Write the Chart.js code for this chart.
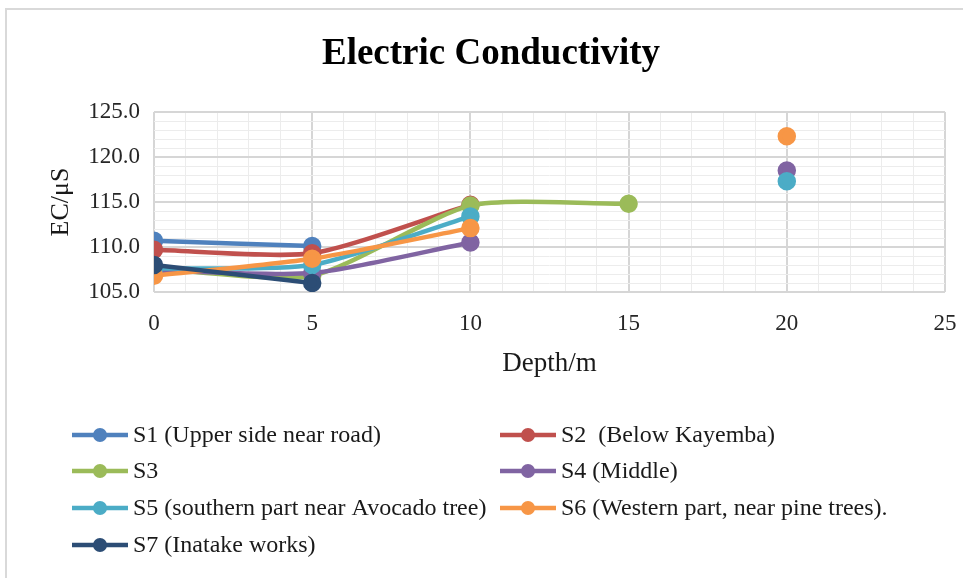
<!DOCTYPE html>
<html>
<head>
<meta charset="utf-8">
<script src="https://cdn.jsdelivr.net/npm/chart.js@4.4.0/dist/chart.umd.min.js"></script>
<style>
html, body { margin: 0; padding: 0; background: #fff; }
#wrap { position: relative; width: 963px; height: 578px; overflow: hidden; }
#frame { position: absolute; left: 5px; top: 8px; width: 1000px; height: 600px; border: 2px solid #d9d9d9; box-sizing: border-box; }
#ecChart { position: absolute; left: 0; top: 0; }
</style>
</head>
<body>
<div id="wrap">
  <div id="frame"></div>
  <canvas id="ecChart" width="963" height="578"></canvas>
</div>
<script>
// depth (m) at which each sample was taken
const depths = [0, 5, 10, 15, 20];

const seriesNames = [
    "S1 (Upper side near road)",
    "S2  (Below Kayemba)",
    "S3",
    "S4 (Middle)",
    "S5 (southern part near Avocado tree)",
    "S6 (Western part, near pine trees).",
    "S7 (Inatake works)"
];

// EC in µS, null where no reading exists
const s1 = [110.7, 110.1, null, null, null];
const s2 = [109.7, 109.3, 114.7, null, null];
const s3 = [107.6, 106.8, 114.6, 114.8, null];
const s4 = [107.4, 107.1, 110.5, null, 118.5];
const s5 = [107.6, 108.0, 113.4, null, 117.3];
const s6 = [106.8, 108.7, 112.1, null, 122.3];
const s7 = [108.0, 106.0, null, null, null];

const seriesValues = [s1, s2, s3, s4, s5, s6, s7];
const seriesColors = ["#4F81BD", "#C0504D", "#9BBB59", "#8064A2", "#4BACC6", "#F79646", "#2C4D75"];

const xTicks = [0, 5, 10, 15, 20, 25];
const yTicks = [105, 110, 115, 120, 125];

const SERIF = '"Liberation Serif", "Times New Roman", serif';

// legend sits in two columns under the plot
const legendCols = [72, 500];
const legendRows = [435, 471, 508, 545];

const titleAndLegend = {
    id: "titleAndLegend",
    afterDraw(chart) {
        const { ctx } = chart;
        ctx.save();
        ctx.fillStyle = "#000";
        ctx.font = `bold 37px ${SERIF}`;
        ctx.textAlign = "center";
        ctx.textBaseline = "alphabetic";
        ctx.fillText("Electric Conductivity", 491, 64);

        ctx.font = `24px ${SERIF}`;
        ctx.textAlign = "left";
        ctx.textBaseline = "middle";
        chart.data.datasets.forEach((ds, i) => {
            const x = legendCols[i % 2];
            const y = legendRows[Math.floor(i / 2)];
            ctx.strokeStyle = ds.borderColor;
            ctx.lineWidth = 4.5;
            ctx.beginPath();
            ctx.moveTo(x, y);
            ctx.lineTo(x + 56, y);
            ctx.stroke();
            ctx.fillStyle = ds.borderColor;
            ctx.beginPath();
            ctx.arc(x + 28, y, 7, 0, Math.PI * 2);
            ctx.fill();
            ctx.fillStyle = "#1a1a1a";
            ctx.fillText(ds.label, x + 61, y + 1);
        });
        ctx.restore();
    }
};

const datasets = seriesNames.map((name, i) => ({
    label: name,
    data: depths.map((d, k) => ({ x: d, y: seriesValues[i][k] })),
    borderColor: seriesColors[i],
    backgroundColor: seriesColors[i],
    pointBackgroundColor: seriesColors[i],
    pointBorderColor: seriesColors[i],
    borderWidth: 4.5,
    pointRadius: 7,
    pointHoverRadius: 7,
    showLine: true,
    spanGaps: false,
    tension: 0.22,
    order: seriesNames.length - i
}));

new Chart(document.getElementById("ecChart"), {
    type: "scatter",
    data: { datasets },
    plugins: [titleAndLegend],
    options: {
        responsive: false,
        animation: false,
        layout: { padding: { left: 0, right: 18, top: 112, bottom: 0 } },
        plugins: { legend: { display: false }, tooltip: { enabled: false } },
        scales: {
            x: {
                type: "linear",
                min: xTicks[0],
                max: xTicks[xTicks.length - 1],
                afterFit(scale) {
                    scale.height = 578 - 292;
                    scale.paddingLeft = 0;
                    scale.paddingRight = 0;
                },
                ticks: {
                    stepSize: 1,
                    autoSkip: false,
                    maxRotation: 0,
                    padding: 18,
                    color: "#262626",
                    font: { family: SERIF, size: 23 },
                    callback: (v) => xTicks.includes(v) ? String(v) : ""
                },
                grid: {
                    drawTicks: false,
                    lineWidth: (c) => xTicks.includes(c.tick && c.tick.value) ? 2 : 1,
                    color: (c) => xTicks.includes(c.tick && c.tick.value) ? "#d6d6d6" : "#ececec"
                },
                border: { display: false },
                title: {
                    display: true,
                    text: "Depth/m",
                    color: "#1a1a1a",
                    font: { family: SERIF, size: 27 },
                    padding: { top: 0, bottom: 198 }
                }
            },
            y: {
                min: yTicks[0],
                max: yTicks[yTicks.length - 1],
                afterFit(scale) { scale.width = 154; },
                ticks: {
                    stepSize: 1,
                    autoSkip: false,
                    padding: 14,
                    color: "#262626",
                    font: { family: SERIF, size: 23 },
                    callback: (v) => yTicks.includes(v) ? v.toFixed(1) : ""
                },
                grid: {
                    drawTicks: false,
                    lineWidth: (c) => yTicks.includes(c.tick && c.tick.value) ? 2 : 1,
                    color: (c) => yTicks.includes(c.tick && c.tick.value) ? "#d6d6d6" : "#ececec"
                },
                border: { display: false },
                title: {
                    display: true,
                    text: "EC/μS",
                    color: "#1a1a1a",
                    font: { family: SERIF, size: 26 },
                    padding: { top: 46, bottom: 0 }
                }
            }
        }
    }
});
</script>
</body>
</html>
